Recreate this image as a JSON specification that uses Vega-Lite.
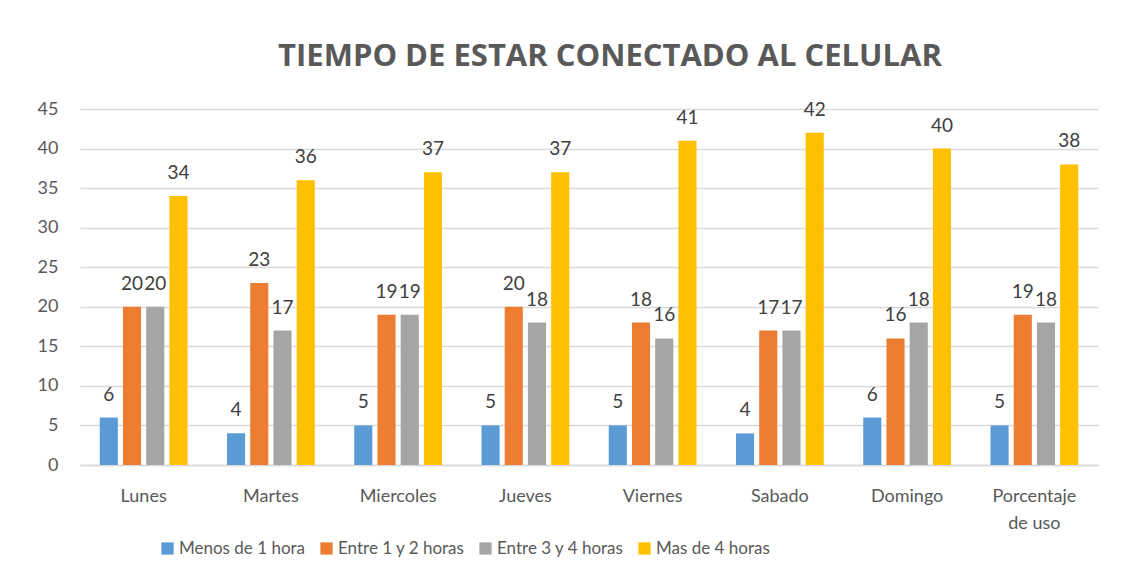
{
  "$schema": "https://vega.github.io/schema/vega-lite/v6.json",
  "width": 1018,
  "height": 356,
  "autosize": {"type": "none"},
  "padding": {"left": 80, "top": 109, "right": 36, "bottom": 116},
  "background": "white",
  "title": {
    "text": "TIEMPO DE ESTAR CONECTADO AL CELULAR",
    "anchor": "middle",
    "dx": 21,
    "offset": 27,
    "fontSize": 31,
    "fontWeight": "bold",
    "font": "Open Sans",
    "color": "#595959"
  },
  "config": {
    "view": {"stroke": null},
    "font": "Lato"
  },
  "data": {
    "values": [
      {"dia": "Lunes", "serie": "Menos de 1 hora", "valor": 6},
      {"dia": "Lunes", "serie": "Entre 1 y 2 horas", "valor": 20},
      {"dia": "Lunes", "serie": "Entre 3 y 4 horas", "valor": 20},
      {"dia": "Lunes", "serie": "Mas de 4 horas", "valor": 34},
      {"dia": "Martes", "serie": "Menos de 1 hora", "valor": 4},
      {"dia": "Martes", "serie": "Entre 1 y 2 horas", "valor": 23},
      {"dia": "Martes", "serie": "Entre 3 y 4 horas", "valor": 17},
      {"dia": "Martes", "serie": "Mas de 4 horas", "valor": 36},
      {"dia": "Miercoles", "serie": "Menos de 1 hora", "valor": 5},
      {"dia": "Miercoles", "serie": "Entre 1 y 2 horas", "valor": 19},
      {"dia": "Miercoles", "serie": "Entre 3 y 4 horas", "valor": 19},
      {"dia": "Miercoles", "serie": "Mas de 4 horas", "valor": 37},
      {"dia": "Jueves", "serie": "Menos de 1 hora", "valor": 5},
      {"dia": "Jueves", "serie": "Entre 1 y 2 horas", "valor": 20},
      {"dia": "Jueves", "serie": "Entre 3 y 4 horas", "valor": 18},
      {"dia": "Jueves", "serie": "Mas de 4 horas", "valor": 37},
      {"dia": "Viernes", "serie": "Menos de 1 hora", "valor": 5},
      {"dia": "Viernes", "serie": "Entre 1 y 2 horas", "valor": 18},
      {"dia": "Viernes", "serie": "Entre 3 y 4 horas", "valor": 16},
      {"dia": "Viernes", "serie": "Mas de 4 horas", "valor": 41},
      {"dia": "Sabado", "serie": "Menos de 1 hora", "valor": 4},
      {"dia": "Sabado", "serie": "Entre 1 y 2 horas", "valor": 17},
      {"dia": "Sabado", "serie": "Entre 3 y 4 horas", "valor": 17},
      {"dia": "Sabado", "serie": "Mas de 4 horas", "valor": 42},
      {"dia": "Domingo", "serie": "Menos de 1 hora", "valor": 6},
      {"dia": "Domingo", "serie": "Entre 1 y 2 horas", "valor": 16},
      {"dia": "Domingo", "serie": "Entre 3 y 4 horas", "valor": 18},
      {"dia": "Domingo", "serie": "Mas de 4 horas", "valor": 40},
      {"dia": "Porcentaje de uso", "serie": "Menos de 1 hora", "valor": 5},
      {"dia": "Porcentaje de uso", "serie": "Entre 1 y 2 horas", "valor": 19},
      {"dia": "Porcentaje de uso", "serie": "Entre 3 y 4 horas", "valor": 18},
      {"dia": "Porcentaje de uso", "serie": "Mas de 4 horas", "valor": 38}
    ]
  },
  "encoding": {
    "x": {
      "field": "dia",
      "type": "nominal",
      "sort": null,
      "title": null,
      "scale": {"paddingInner": 0.27, "paddingOuter": 0.135},
      "axis": {
        "labelAngle": 0,
        "labelFontSize": 18,
        "labelColor": "#595959",
        "labelFont": "Lato",
        "labelPadding": 22,
        "labelLineHeight": 27,
        "ticks": false,
        "domainColor": "#D9D9D9",
        "domainWidth": 1.5,
        "labelExpr": "datum.label == 'Porcentaje de uso' ? ['Porcentaje', 'de uso'] : datum.label"
      }
    },
    "xOffset": {
      "field": "serie",
      "type": "nominal",
      "sort": ["Menos de 1 hora", "Entre 1 y 2 horas", "Entre 3 y 4 horas", "Mas de 4 horas"],
      "scale": {"paddingInner": 0.22, "paddingOuter": 0.11}
    },
    "y": {
      "field": "valor",
      "type": "quantitative",
      "title": null,
      "scale": {"domain": [0, 45]},
      "axis": {
        "values": [0, 5, 10, 15, 20, 25, 30, 35, 40, 45],
        "labelFontSize": 18,
        "labelColor": "#595959",
        "labelFont": "Lato",
        "labelPadding": 22,
        "ticks": false,
        "domain": false,
        "gridColor": "#D9D9D9",
        "gridWidth": 1.5
      }
    }
  },
  "layer": [
    {
      "mark": {"type": "bar"},
      "encoding": {
        "color": {
          "field": "serie",
          "type": "nominal",
          "sort": ["Menos de 1 hora", "Entre 1 y 2 horas", "Entre 3 y 4 horas", "Mas de 4 horas"],
          "scale": {
            "domain": ["Menos de 1 hora", "Entre 1 y 2 horas", "Entre 3 y 4 horas", "Mas de 4 horas"],
            "range": ["#5B9BD5", "#ED7D31", "#A5A5A5", "#FFC000"]
          },
          "legend": {
            "title": null,
            "orient": "none",
            "direction": "horizontal",
            "legendX": 79,
            "legendY": 431,
            "symbolType": "square",
            "symbolSize": 150,
            "symbolStrokeWidth": 0,
            "labelFontSize": 17,
            "labelColor": "#595959",
            "labelFont": "Lato",
            "labelOffset": 3,
            "columnPadding": 12,
            "gridAlign": "none",
            "labelLimit": 200
          }
        }
      }
    },
    {
      "mark": {"type": "text", "baseline": "alphabetic", "dy": -17, "fontSize": 19, "color": "#404040", "font": "Lato"},
      "encoding": {
        "text": {"field": "valor", "type": "quantitative"}
      }
    }
  ]
}
